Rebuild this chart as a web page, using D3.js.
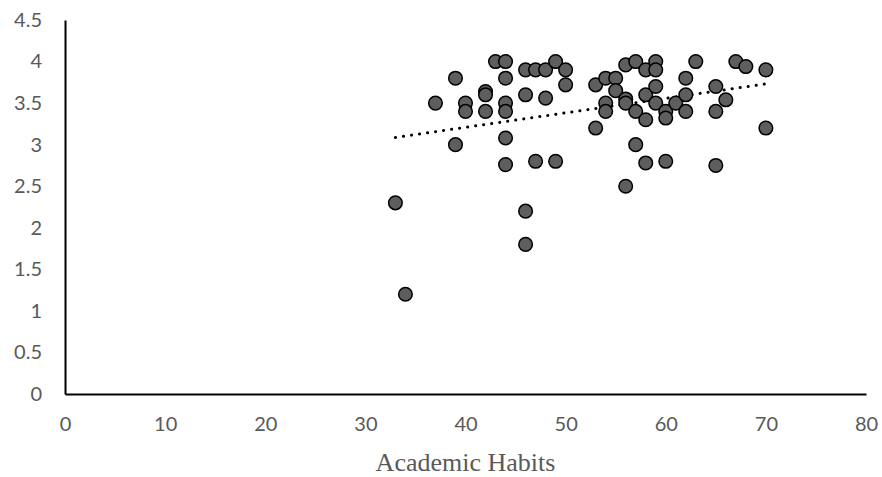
<!DOCTYPE html>
<html>
<head>
<meta charset="utf-8">
<script src="https://cdn.jsdelivr.net/npm/d3@7"></script>
<style>
  body { margin: 0; background: #fff; }
  text { font-family: Lato, "Liberation Sans", sans-serif; }
</style>
</head>
<body>
<script>
// Academic Habits (x) vs score (y)
const habits = [33, 34, 37, 39, 39, 40, 40, 42, 42, 42, 43, 44, 44, 44, 44, 44, 44, 46, 46, 46, 46,
  47, 47, 48, 48, 49, 49, 50, 50, 53, 53, 54, 54, 54, 55, 55, 56, 56, 56, 56, 57, 57, 57, 58, 58, 58, 58,
  59, 59, 59, 59, 60, 60, 60, 61, 62, 62, 62, 63, 65, 65, 65, 66, 67, 68, 70, 70];
const scores = [2.3, 1.2, 3.5, 3.8, 3.0, 3.5, 3.4, 3.64, 3.6, 3.4, 4.0, 4.0, 3.8, 3.5, 3.4, 3.08, 2.76, 3.9, 3.6, 2.2, 1.8,
  3.9, 2.8, 3.9, 3.56, 4.0, 2.8, 3.9, 3.72, 3.72, 3.2, 3.8, 3.5, 3.4, 3.8, 3.65, 3.96, 3.55, 3.5, 2.5, 4.0, 3.4, 3.0, 3.9, 3.6, 3.3, 2.78,
  4.0, 3.9, 3.7, 3.5, 3.4, 3.32, 2.8, 3.5, 3.8, 3.6, 3.4, 4.0, 3.7, 3.4, 2.75, 3.54, 4.0, 3.94, 3.9, 3.2];

const xTicks = [0, 10, 20, 30, 40, 50, 60, 70, 80];
const yTicks = [0, 0.5, 1, 1.5, 2, 2.5, 3, 3.5, 4, 4.5];

const width = 882, height = 477;
const margin = {left: 65, right: 16, top: 20, bottom: 83};

const svg = d3.select('body').append('svg')
  .attr('width', width)
  .attr('height', height);

const x = d3.scaleLinear().domain([0, 80]).range([margin.left, width - margin.right]);
const y = d3.scaleLinear().domain([0, 4.5]).range([height - margin.bottom, margin.top]);

// axes (no tick marks, just the lines and labels)
const xAxis = svg.append('g')
  .attr('transform', `translate(0,${y(0)})`)
  .call(d3.axisBottom(x).tickValues(xTicks).tickSize(0).tickPadding(23).tickFormat(d3.format('d')));
const yAxis = svg.append('g')
  .attr('transform', `translate(${x(0)},0)`)
  .call(d3.axisLeft(y).tickValues(yTicks).tickSize(0).tickPadding(23).tickFormat(d => d));

[xAxis, yAxis].forEach(a => {
  a.select('.domain').attr('stroke', '#000').attr('stroke-width', 2);
  a.selectAll('text').attr('fill', '#595959').style('font-size', '20px')
    .style('font-family', 'Lato, "Liberation Sans", sans-serif');
});

// linear trend line
const n = habits.length;
const mx = d3.mean(habits), my = d3.mean(scores);
let sxy = 0, sxx = 0;
for (let i = 0; i < n; i++) {
  sxy += (habits[i] - mx) * (scores[i] - my);
  sxx += (habits[i] - mx) ** 2;
}
const slope = sxy / sxx, icpt = my - slope * mx;
const [x0, x1] = d3.extent(habits);

svg.append('line')
  .attr('x1', x(x0)).attr('y1', y(icpt + slope * x0))
  .attr('x2', x(x1)).attr('y2', y(icpt + slope * x1))
  .attr('stroke', '#000')
  .attr('stroke-width', 3)
  .attr('stroke-linecap', 'round')
  .attr('stroke-dasharray', '0.1 8');

// points
svg.append('g').selectAll('circle')
  .data(habits.map((h, i) => [h, scores[i]]))
  .enter().append('circle')
  .attr('cx', d => x(d[0]))
  .attr('cy', d => y(d[1]))
  .attr('r', 6.8)
  .attr('fill', '#5e5e5e')
  .attr('stroke', '#000')
  .attr('stroke-width', 1.5);

svg.append('text')
  .attr('x', (x(0) + x(80)) / 2)
  .attr('y', 471)
  .attr('text-anchor', 'middle')
  .attr('fill', '#595959')
  .style('font-family', '"Liberation Serif", "Times New Roman", serif')
  .style('font-size', '26px')
  .text('Academic Habits');
</script>
</body>
</html>
